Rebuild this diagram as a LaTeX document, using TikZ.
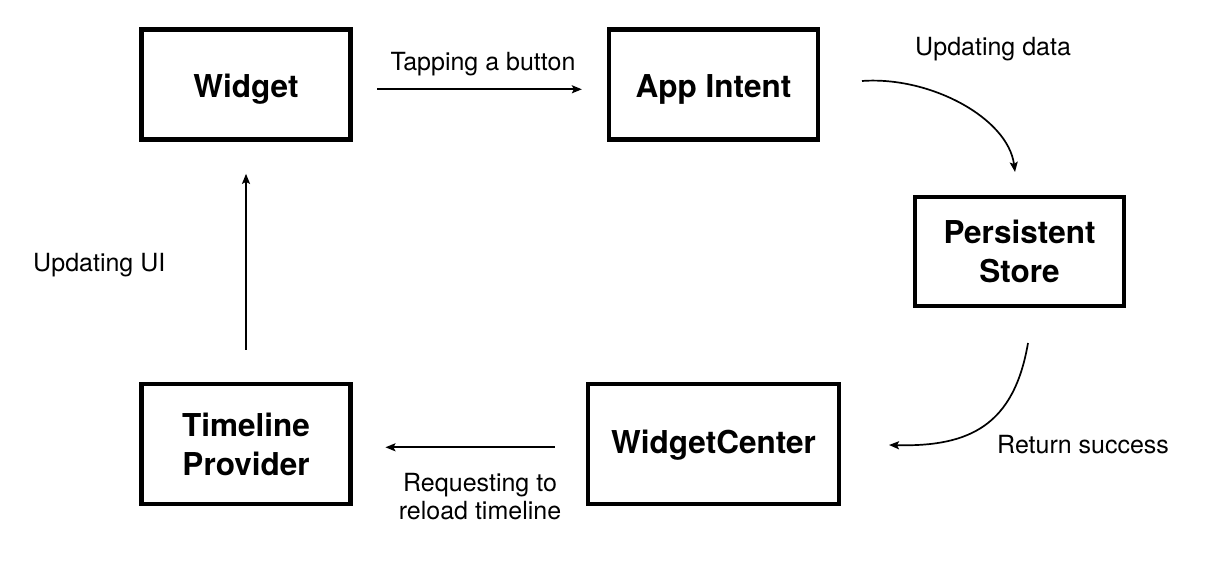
\documentclass[tikz,border=0pt]{standalone}
\usepackage{fontspec}
\setmainfont{TeX Gyre Heros}
\usetikzlibrary{arrows.meta}
\begin{document}
\begin{tikzpicture}[x=1pt,y=-1pt,
  box/.style={draw, line width=4.3pt, inner sep=0pt, font=\fontsize{31.5}{39}\selectfont\bfseries},
  twoline/.style={align=center},
  lbl/.style={font=\fontsize{25}{27.5}\selectfont, inner sep=0pt},
  conn/.style={line width=1.7pt, -{Stealth[length=10pt,width=8pt,inset=2pt]}}]
\useasboundingbox (0,0) rectangle (1209,561);
% boxes
\node[box, minimum width=209pt, minimum height=110pt, text height=26pt, text depth=0pt] (widget) at (246,84.5) {Widget};
\node[box, minimum width=209pt, minimum height=110pt, text height=26pt, text depth=0pt] (appintent) at (713.5,84.5) {App Intent};
\node[box, twoline, minimum width=209pt, minimum height=109pt] (persist) at (1019.5,251.5) {Persistent\\Store};
\node[box, minimum width=251pt, minimum height=120pt, text height=23pt, text depth=5pt] (wcenter) at (713.5,444) {WidgetCenter};
\node[box, twoline, minimum width=209pt, minimum height=120pt] (timeline) at (246,444) {Timeline\\Provider};
% straight connectors
\draw[conn, shorten <=24.5pt, shorten >=25pt] ([yshift=-4.8pt]widget.east) -- ([yshift=-4.8pt]appintent.west);
\draw[conn, shorten <=32.3pt, shorten >=32.2pt] (timeline.north) -- (widget.south);
\draw[conn, shorten <=31.3pt, shorten >=32.8pt] ([yshift=-3.3pt]wcenter.west) -- ([yshift=-3.3pt]timeline.east);
% curved connectors
\coordinate (ud0) at (862,81);
\coordinate (ud1) at (1015,172);
\draw[conn] (ud0) .. controls (930,76) and (1008,118) .. (ud1);
\coordinate (rs0) at (1028,343);
\coordinate (rs1) at (889,445);
\draw[conn] (rs0) .. controls (1014,425) and (970,447) .. (rs1);
% labels
\node[lbl, anchor=base] (tap) at (483,71) {Tapping a button};
\node[lbl, anchor=base west] (upd) at (915,56) {Updating data};
\node[lbl, anchor=base west] (ret) at (997,453) {Return success};
\node[lbl, anchor=base west] (ui) at (33,271) {Updating UI};
\node[lbl, align=center] (req) at (480,496.5) {Requesting to\\reload timeline};
\end{tikzpicture}
\end{document}
